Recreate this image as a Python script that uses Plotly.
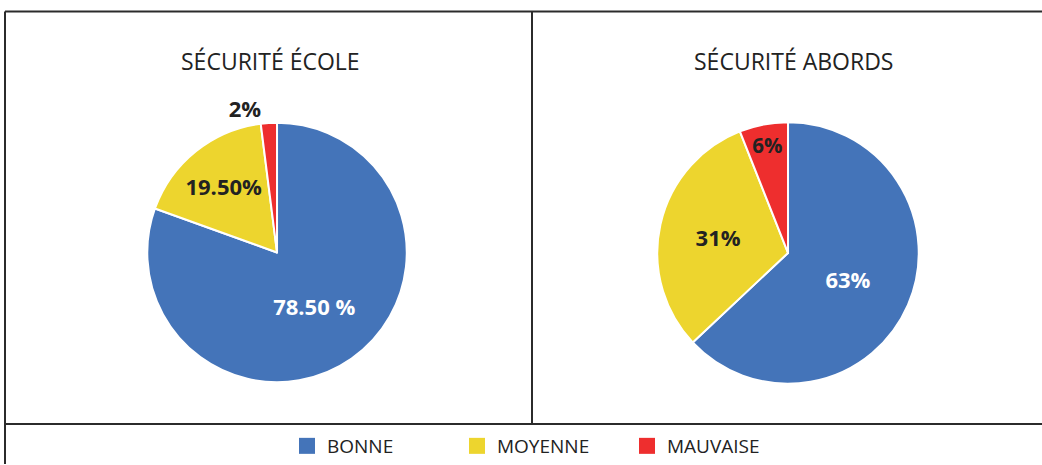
import plotly.graph_objects as go

categories = ["BONNE", "MOYENNE", "MAUVAISE"]
colors = ["#4474B9", "#EDD52E", "#EE2E2E"]

titles = ["SÉCURITÉ ÉCOLE", "SÉCURITÉ ABORDS"]

ecole_values = [80.5, 17.5, 2.0]
ecole_labels = ["78.50 %", "19.50%", "2%"]

abords_values = [63, 31, 6]
abords_labels = ["63%", "31%", "6%"]

W, H = 1042, 465
label_colors = ["white", "#222222", "#222222"]

fig = go.Figure()

fig.add_trace(go.Pie(
    labels=categories, values=ecole_values, text=ecole_labels,
    textinfo="text", sort=False, direction="clockwise", rotation=0,
    marker=dict(colors=colors, line=dict(color="white", width=2)),
    textposition=["inside", "inside", "outside"],
    insidetextorientation="horizontal",
    textfont=dict(family="Open Sans", size=22, weight="bold", color=label_colors),
    outsidetextfont=dict(family="Open Sans", size=22, weight="bold", color="#222222"),
    domain=dict(x=[0.1411, 0.3906], y=[0.1763, 0.7355]),
    hoverinfo="label+text", showlegend=False,
))

fig.add_trace(go.Pie(
    labels=categories, values=abords_values, text=abords_labels,
    textinfo="text", sort=False, direction="clockwise", rotation=0,
    marker=dict(colors=colors, line=dict(color="white", width=2)),
    textposition="inside",
    insidetextorientation="horizontal",
    textfont=dict(family="Open Sans", size=22, weight="bold", color=label_colors),
    domain=dict(x=[0.6305, 0.8820], y=[0.1731, 0.7366]),
    hoverinfo="label+text", showlegend=False,
))

# legend entries (square swatches)
for cat, col in zip(categories, colors):
    fig.add_trace(go.Scatter(
        x=[None], y=[None], mode="markers", name=cat,
        marker=dict(symbol="square", size=21, color=col),
        showlegend=True, hoverinfo="skip",
    ))

annotations = [
    dict(text=titles[0], x=270 / W, y=1 - 61 / H, xref="paper", yref="paper",
         xanchor="center", yanchor="middle",
         showarrow=False, font=dict(family="Open Sans", size=23, color="#222222")),
    dict(text=titles[1], x=793 / W, y=1 - 61 / H, xref="paper", yref="paper",
         xanchor="center", yanchor="middle",
         showarrow=False, font=dict(family="Open Sans", size=23, color="#222222")),
]

line_style = dict(color="#2b2b2b", width=2)
shapes = [
    dict(type="line", xref="paper", yref="paper", x0=5 / W, x1=1.0, y0=1 - 11.5 / H, y1=1 - 11.5 / H, line=line_style),
    dict(type="line", xref="paper", yref="paper", x0=5 / W, x1=5 / W, y0=0, y1=1 - 11.5 / H, line=line_style),
    dict(type="line", xref="paper", yref="paper", x0=532 / W, x1=532 / W, y0=1 - 425 / H, y1=1 - 11.5 / H, line=line_style),
    dict(type="line", xref="paper", yref="paper", x0=5 / W, x1=1.0, y0=1 - 425 / H, y1=1 - 425 / H, line=line_style),
]

fig.update_layout(
    width=W, height=H,
    margin=dict(l=0, r=0, t=0, b=0),
    paper_bgcolor="white", plot_bgcolor="white",
    xaxis=dict(visible=False), yaxis=dict(visible=False),
    annotations=annotations, shapes=shapes,
    legend=dict(orientation="h", x=542 / W, xanchor="center", y=1 - 447 / H, yanchor="middle",
                font=dict(family="Open Sans", size=19, color="#222222"),
                entrywidth=125, traceorder="normal"),
)

fig.write_html(
    "out.html",
    config={"displayModeBar": False},
    post_script="document.body.style.margin='0';document.body.style.overflow='hidden';",
)
